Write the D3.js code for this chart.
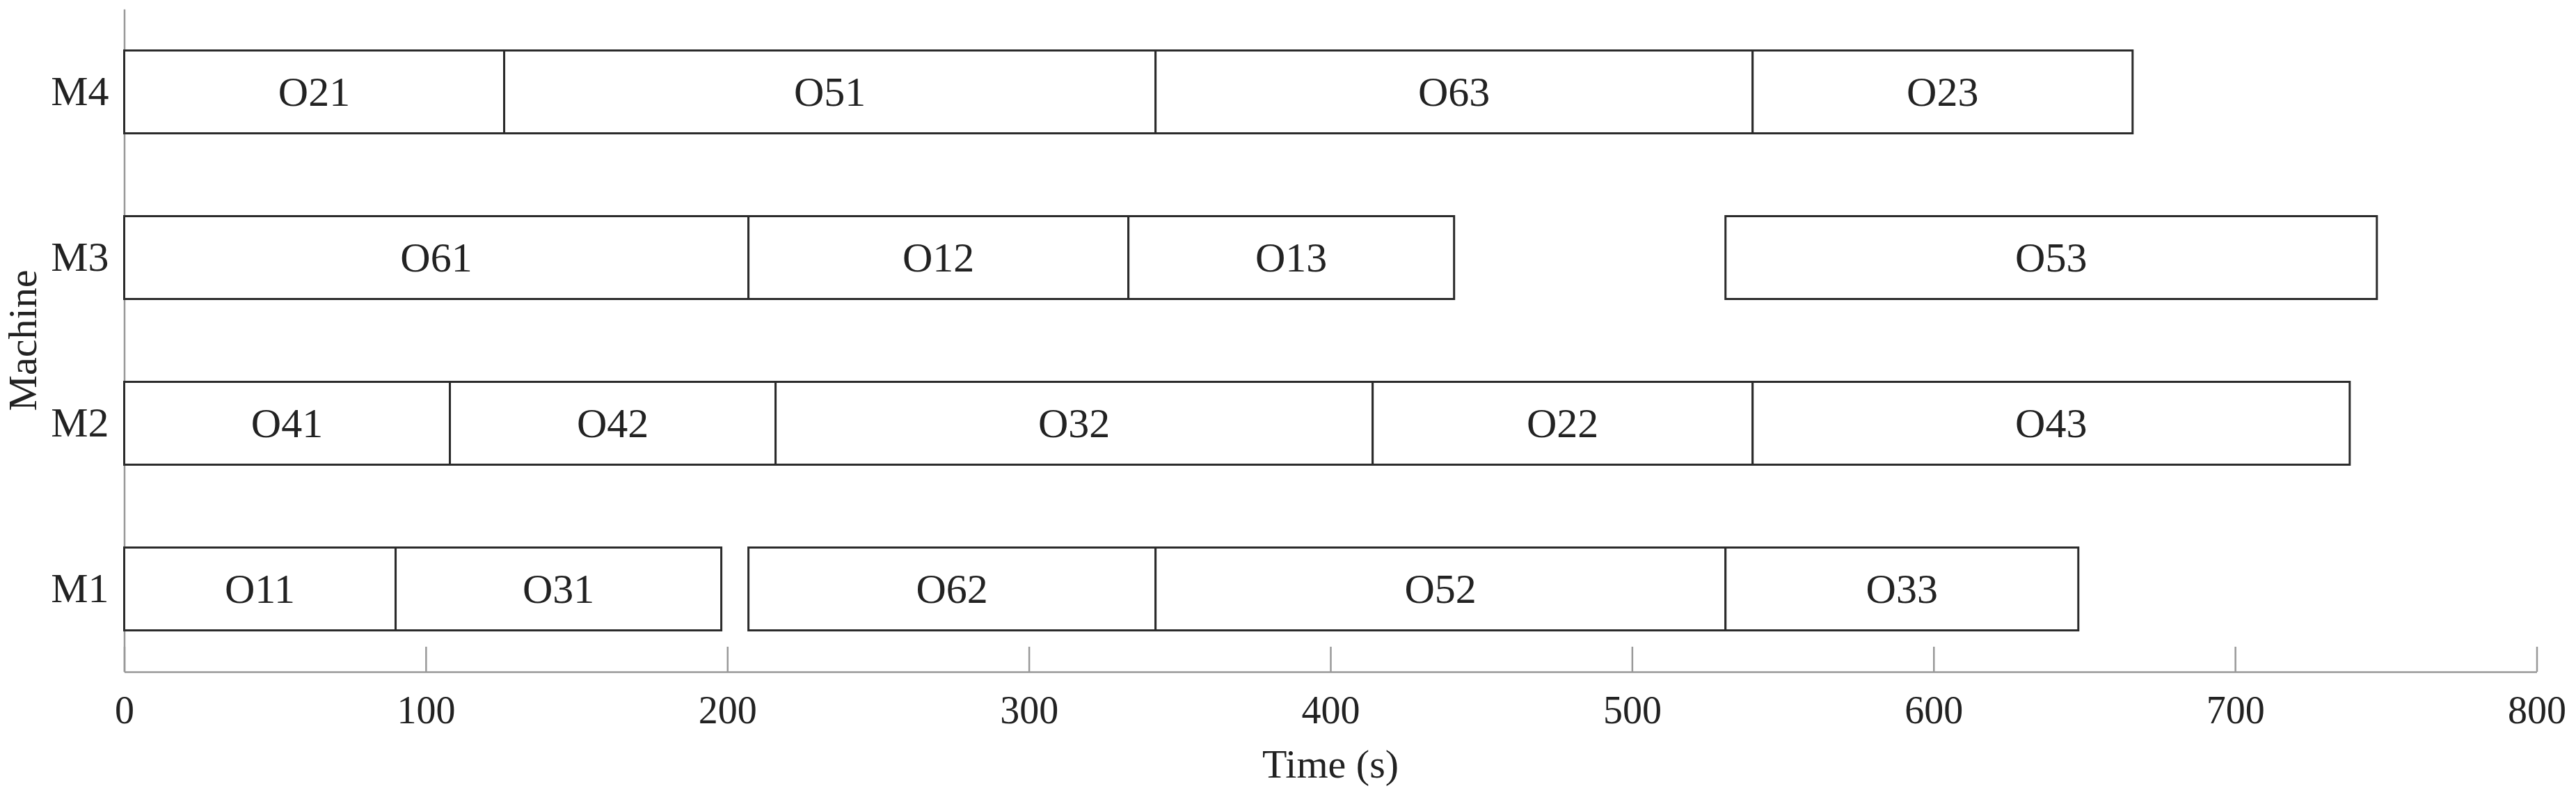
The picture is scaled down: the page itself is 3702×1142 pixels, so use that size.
<!DOCTYPE html>
<html>
<head>
<meta charset="utf-8">
<script src="https://cdn.jsdelivr.net/npm/d3@7"></script>
<style>
  html, body { margin: 0; padding: 0; background: #fff; }
  text { font-family: "Liberation Serif", "DejaVu Serif", serif; fill: #222; }
</style>
</head>
<body>
<svg id="chart" width="3702" height="1142"></svg>
<script>
// machines, top to bottom
const machines = ['M4', 'M3', 'M2', 'M1']

// operations per machine: [label, start, end]
const opsM1 = [['O11', 0, 90], ['O31', 90, 198], ['O62', 207, 342], ['O52', 342, 531], ['O33', 531, 648]]
const opsM2 = [['O41', 0, 108], ['O42', 108, 216], ['O32', 216, 414], ['O22', 414, 540], ['O43', 540, 738]]
const opsM3 = [['O61', 0, 207], ['O12', 207, 333], ['O13', 333, 441], ['O53', 531, 747]]
const opsM4 = [['O21', 0, 126], ['O51', 126, 342], ['O63', 342, 540], ['O23', 540, 666]]

const xTicks = [0, 100, 200, 300, 400, 500, 600, 700, 800]

const ops = [].concat(
  opsM1.map(d => ({ m: 'M1', label: d[0], start: d[1], end: d[2] })),
  opsM2.map(d => ({ m: 'M2', label: d[0], start: d[1], end: d[2] })),
  opsM3.map(d => ({ m: 'M3', label: d[0], start: d[1], end: d[2] })),
  opsM4.map(d => ({ m: 'M4', label: d[0], start: d[1], end: d[2] }))
)

const svg = d3.select('#chart')
const plotL = 178.5, plotR = 3645.5, plotT = 13, plotB = 965

const x = d3.scaleLinear().domain([0, 800]).range([plotL, plotR])
const y = d3.scaleBand().domain(machines).range([plotT, plotB])
    .paddingInner(0.5).paddingOuter(0.25)

// axes with inward ticks
const xAxis = svg.append('g')
    .attr('transform', `translate(0,${plotB})`)
    .call(d3.axisBottom(x).tickValues(xTicks).tickSize(-36).tickSizeOuter(0).tickPadding(34))
const yAxis = svg.append('g')
    .attr('transform', `translate(${plotL},0)`)
    .call(d3.axisLeft(y).tickSize(-36).tickSizeOuter(0).tickPadding(22))

;[xAxis, yAxis].forEach(g => {
  g.selectAll('path, line').attr('stroke', '#999').attr('stroke-width', 2.5)
  g.selectAll('text').attr('font-size', 56).attr('fill', '#222')
    .attr('font-family', '"Liberation Serif", serif')
})
yAxis.selectAll('text').attr('font-size', 60)

// bars
const bars = svg.append('g')
bars.selectAll('rect')
  .data(ops)
  .join('rect')
    .attr('x', d => x(d.start))
    .attr('y', d => y(d.m))
    .attr('width', d => x(d.end) - x(d.start))
    .attr('height', y.bandwidth())
    .attr('fill', '#fff')
    .attr('stroke', '#2b2b2b')
    .attr('stroke-width', 3)

bars.selectAll('text')
  .data(ops)
  .join('text')
    .attr('x', d => x((d.start + d.end) / 2))
    .attr('y', d => y(d.m) + y.bandwidth() / 2)
    .attr('text-anchor', 'middle')
    .attr('dominant-baseline', 'central')
    .attr('font-size', 60)
    .text(d => d.label)

// axis titles
svg.append('text')
    .attr('x', x(400))
    .attr('y', 1117)
    .attr('text-anchor', 'middle')
    .attr('font-size', 58)
    .text('Time (s)')

svg.append('text')
    .attr('transform', `translate(52,${(plotT + plotB) / 2}) rotate(-90)`)
    .attr('text-anchor', 'middle')
    .attr('font-size', 58)
    .text('Machine')
</script>
</body>
</html>
